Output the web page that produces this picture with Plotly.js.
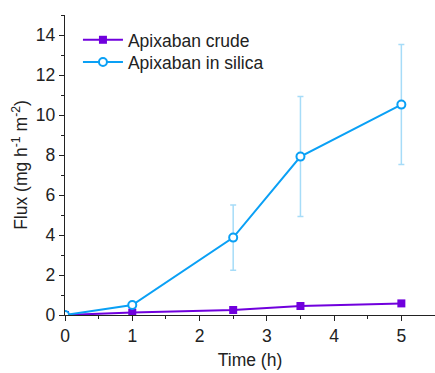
<!DOCTYPE html>
<html><head><meta charset="utf-8">
<script src="https://cdn.plot.ly/plotly-3.0.1.min.js"></script>
<style>html,body{margin:0;padding:0;background:#fff}#chart{width:435px;height:373px}</style>
</head><body><div id="chart"></div>
<script>
const time = [0, 1, 2.5, 3.5, 5];
const crude = [0, 0.12, 0.25, 0.45, 0.58];
const silica = [0, 0.5, 3.87, 7.92, 10.52];
const silicaErr = [0, 0, 1.63, 3.0, 3.0];
const seriesNames = ['Apixaban crude', 'Apixaban in silica'];

const font = {family: 'Liberation Sans, Arial, sans-serif', size: 17.5, color: '#222'};
const legFont = {family: font.family, size: 17.5, color: '#222'};
const traces = [
  {x: time, y: crude, name: seriesNames[0], type: 'scatter', mode: 'lines+markers', legend: 'legend',
   line: {color: '#7000dd', width: 2},
   marker: {symbol: 'square', size: 8, color: '#7000dd'}},
  {x: time, y: silica, name: seriesNames[1], type: 'scatter', mode: 'lines+markers', legend: 'legend2',
   line: {color: '#0aa0f5', width: 2},
   marker: {symbol: 'circle', size: 8, color: '#ffffff', line: {width: 2, color: '#0aa0f5'}},
   error_y: {type: 'data', array: silicaErr, visible: true, color: '#a6dcf8', thickness: 1.5, width: 3}}
];
const layout = {
  width: 435, height: 373,
  margin: {l: 65, r: 0, t: 15, b: 58},
  paper_bgcolor: '#fff', plot_bgcolor: '#fff',
  font: font,
  showlegend: true,
  legend: {x: 0.035, y: 0.917, xanchor: 'left', yanchor: 'middle', bgcolor: 'rgba(0,0,0,0)',
           font: legFont, itemwidth: 40},
  legend2: {x: 0.035, y: 0.843, xanchor: 'left', yanchor: 'middle', bgcolor: 'rgba(0,0,0,0)',
           font: legFont, itemwidth: 40},
  xaxis: {range: [0, 5.5], showgrid: false, zeroline: false, showline: true, linecolor: '#222', linewidth: 1.2,
          ticks: 'outside', ticklen: 5, tickcolor: '#222', tickvals: [0,1,2,3,4,5],
          minor: {ticks: 'outside', ticklen: 3, dtick: 0.5, tickcolor: '#222', showgrid: false},
          tickfont: {size: 17.5}, title: {text: 'Time (h)', font: {size: 17.5}, standoff: 8}},
  yaxis: {range: [0, 15], showgrid: false, zeroline: false, showline: true, linecolor: '#222', linewidth: 1.2,
          ticks: 'outside', ticklen: 5, tickcolor: '#222', tickvals: [0,2,4,6,8,10,12,14],
          minor: {ticks: 'outside', ticklen: 3, dtick: 1, tickcolor: '#222', showgrid: false},
          tickfont: {size: 17.5}, title: {text: 'Flux (mg h<sup>-1</sup> m<sup>-2</sup>)', font: {size: 17.5}, standoff: 3}}
};
Plotly.newPlot('chart', traces, layout, {displayModeBar: false, staticPlot: true});
</script></body></html>
